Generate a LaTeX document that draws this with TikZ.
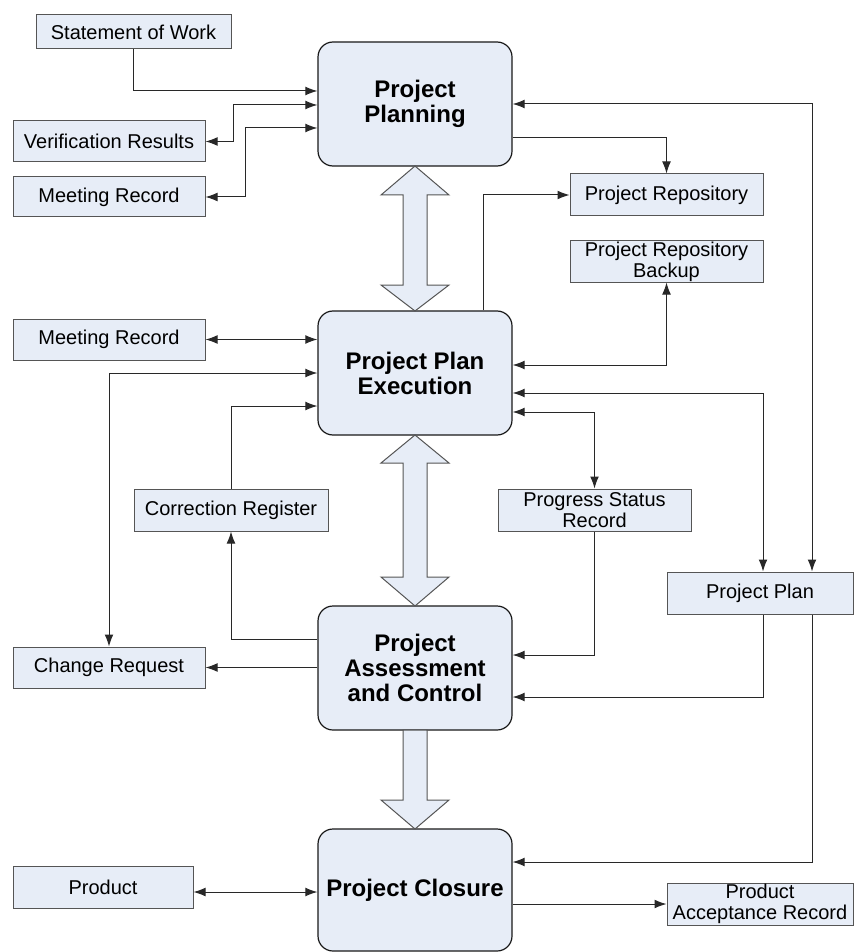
\documentclass[tikz,border=0pt]{standalone}
\usepackage{fontspec}
\setmainfont{Liberation Sans}
\usetikzlibrary{arrows.meta}

\definecolor{boxfill}{RGB}{231,237,247}
\definecolor{boxline}{RGB}{85,85,85}
\definecolor{wirecol}{RGB}{40,40,40}

\tikzset{
  phase/.style={draw=black!90, line width=0.6pt, fill=boxfill, rounded corners=7.5pt,
    minimum width=97pt, minimum height=62pt, inner sep=0pt, align=center,
    font=\fontsize{12}{12.5}\selectfont\bfseries},
  doc/.style={draw=boxline, line width=0.5pt, fill=boxfill, inner sep=0pt, align=center,
    font=\fontsize{10}{10.5}\selectfont},
  wire/.style={draw=wirecol, line width=0.5pt},
  bigarrow/.style={draw=boxline, line width=0.5pt, fill=boxfill},
}

\begin{document}
\begin{tikzpicture}[x=0.5pt, y=-0.5pt, >={Latex[length=6pt,width=4.4pt]}]
\useasboundingbox (0,0) rectangle (854,952);

% Phases
  \node[phase] (plan) at (415,104) {Project\\Planning};
  \node[phase] (exec) at (415,373) {Project Plan\\Execution};
  \node[phase] (assess) at (415,668) {Project\\Assessment\\and Control};
  \node[phase, minimum height=61pt] (close) at (415,890) {Project Closure};

% Documents
  \node[doc, minimum width=97.5pt, minimum height=17pt] (sow) at (133.5,32) {Statement of Work};
  \node[doc, minimum width=96pt, minimum height=20.5pt] (verif) at (109,141.5) {Verification Results};
  \node[doc, minimum width=96pt, minimum height=20pt] (meet1) at (109,197) {Meeting Record};
  \node[doc, minimum width=96.5pt, minimum height=21pt] (repo) at (666.5,195) {Project Repository};
  \node[doc, minimum width=96.5pt, minimum height=20.5pt] (backup) at (666.5,261.5) {Project Repository\\Backup};
  \node[doc, minimum width=96pt, minimum height=20.5pt] (meet2) at (109,339.5) {Meeting Record};
  \node[doc, minimum width=97pt, minimum height=21pt] (corr) at (231,510) {Correction Register};
  \node[doc, minimum width=96.5pt, minimum height=21pt] (prog) at (594.5,510) {Progress Status\\Record};
  \node[doc, minimum width=93pt, minimum height=21pt] (pplan) at (760,593) {Project Plan};
  \node[doc, minimum width=96pt, minimum height=20.5pt] (chreq) at (109,667.5) {Change Request};
  \node[doc, minimum width=90pt, minimum height=21pt] (product) at (103,887) {Product};
  \node[doc, minimum width=93pt, minimum height=21pt] (accept) at (760,904) {Product\\Acceptance Record};

% Block arrows between the phases
  \draw[bigarrow] (415,166) -- (449,195) -- (427,195) -- (427,285) -- (449,285) -- (415,311)
    -- (381,285) -- (403,285) -- (403,195) -- (381,195) -- cycle;
  \draw[bigarrow] (415,435) -- (449,463) -- (427,463) -- (427,577) -- (449,577) -- (415,606)
    -- (381,577) -- (403,577) -- (403,463) -- (381,463) -- cycle;
  \draw[bigarrow] (403,730) -- (427,730) -- (427,800) -- (449,800) -- (415,829)
    -- (381,800) -- (403,800) -- cycle;

% Planning
  \draw[wire, ->] (sow.south) |- (plan.west |- 0,91);
  \draw[wire, <->] (verif.east) -- ++(28,0) |- (plan.west |- 0,105);
  \draw[wire, <->] (meet1.east) -- ++(40,0) |- (plan.west |- 0,128);
  \draw[wire, <->] (plan.east |- 0,104) -| (pplan.north -| 812,0);
  \draw[wire, ->] (plan.east |- 0,138) -| (repo.north);

% Execution
  \draw[wire, ->] (exec.north -| 483,0) |- (repo.west);
  \draw[wire, <->] (exec.east |- 0,365) -| (backup.south);
  \draw[wire, <->] (exec.east |- 0,393) -| (pplan.north -| 763,0);
  \draw[wire, <->] (exec.east |- 0,412) -| (prog.north);
  \draw[wire, <->] (meet2.east) -- (exec.west |- meet2.east);
  \draw[wire, <->] (exec.west |- 0,373) -| (chreq.north);
  \draw[wire, ->] (corr.north) |- (exec.west |- 0,406);

% Assessment and control
  \draw[wire, ->] (assess.west |- 0,639) -| (corr.south);
  \draw[wire, ->] (assess.west |- chreq.east) -- (chreq.east);
  \draw[wire, ->] (prog.south) |- (assess.east |- 0,655);
  \draw[wire, ->] (pplan.south -| 763,0) |- (assess.east |- 0,697);

% Closure
  \draw[wire, ->] (pplan.south -| 812,0) |- (close.east |- 0,862);
  \draw[wire, <->] (product.east |- 0,892) -- (close.west |- 0,892);
  \draw[wire, ->] (close.east |- accept.west) -- (accept.west);

\end{tikzpicture}
\end{document}
